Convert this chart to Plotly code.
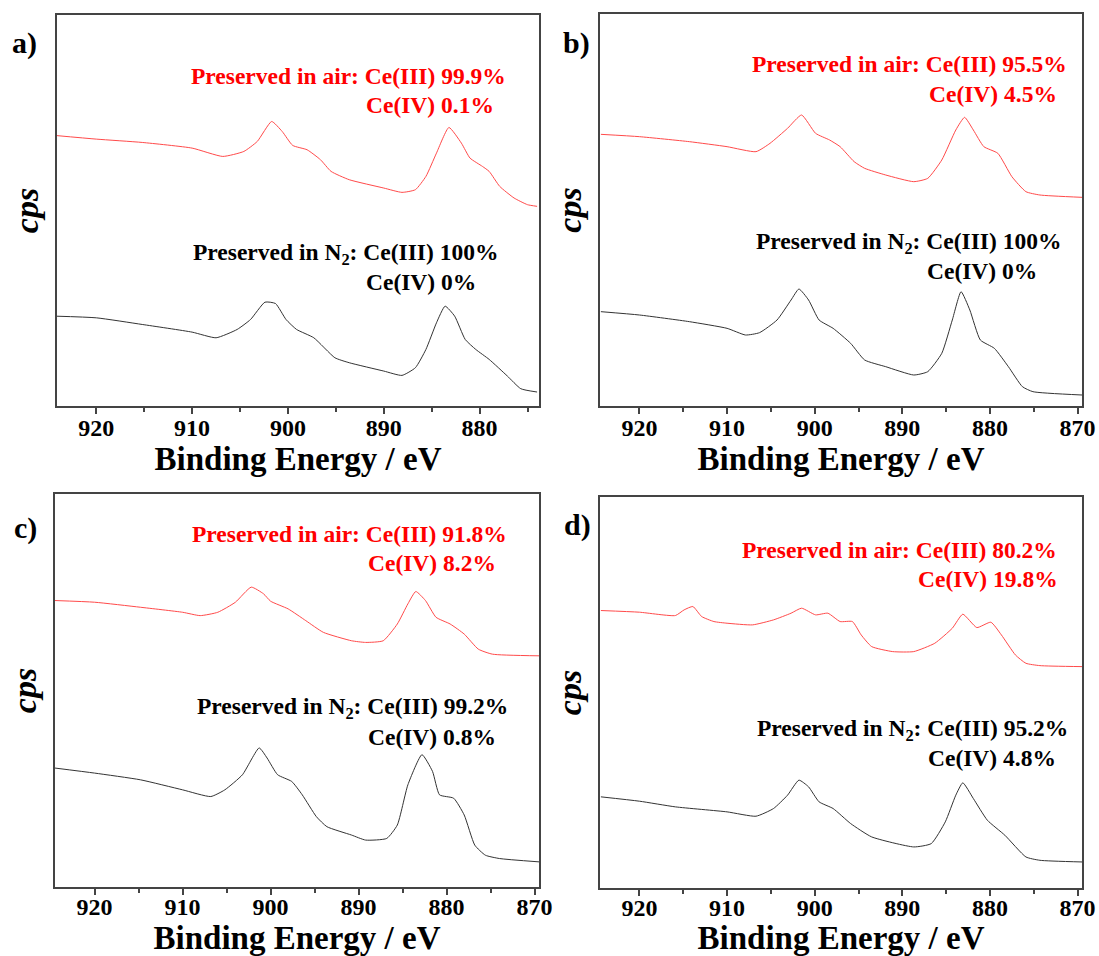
import plotly.graph_objects as go

# ---------------- data (binding energy in eV, intensity in arbitrary cps) ----------------
a_air_E = [924.3, 920, 915.2, 910, 906.8, 904.6, 903.2, 901.7, 900.6, 899.5, 898, 896.6, 895.5, 893.6,
           890, 888.1, 886.7, 885.6, 884.5, 883.2, 881.9, 881, 879.7, 879, 877.9, 876.4, 875, 874]
a_air_I = [813, 802, 792, 775, 750, 765, 795, 855, 825, 783, 770, 740, 705, 680,
           655, 642, 650, 690, 760, 837, 790, 745, 720, 705, 660, 625, 605, 600]
a_n2_E = [924.3, 920, 915.2, 910, 907.5, 905.3, 903.9, 902.4, 901.3, 900.2, 899.1, 897.3, 895.1, 893.6,
          890, 888.1, 886.7, 885.6, 884.5, 883.6, 882.6, 881.5, 880.4, 879, 877.1, 875.7, 874]
a_n2_I = [270, 265, 245, 222, 205, 230, 260, 312, 308, 260, 230, 205, 145, 130,
          105, 92, 115, 170, 250, 300, 270, 200, 170, 140, 90, 52, 42]

b_air_E = [924.4, 920, 914.3, 910, 906.7, 905.1, 903.1, 901.5, 899.9, 898.3, 897.1, 895.5, 894.3, 891.9,
           888.7, 887.1, 885.5, 883.9, 882.9, 881.9, 880.7, 879.1, 877.5, 875.9, 874.3, 869.5]
b_air_I = [815, 808, 793, 778, 763, 788, 833, 873, 818, 798, 778, 733, 713, 693,
           673, 683, 738, 828, 866, 828, 778, 758, 688, 643, 633, 626]
b_n2_E = [924.4, 920, 914.3, 910, 907.9, 906.3, 904.3, 902.7, 901.8, 900.7, 899.5, 897.9, 895.9, 894.3,
          891.9, 888.7, 887.1, 885.5, 884.3, 883.3, 882.3, 881.1, 879.5, 877.9, 876.3, 875.1, 869.5]
b_n2_I = [283, 273, 253, 233, 213, 220, 258, 318, 351, 318, 258, 233, 188, 138,
          118, 93, 103, 158, 258, 343, 288, 198, 173, 118, 58, 43, 33]

c_air_E = [924.5, 920, 914.8, 910, 908, 906, 904, 902.2, 900.8, 900, 898, 896, 894, 890.8,
           889.2, 887.2, 885.6, 884.4, 883.5, 882.4, 881.2, 879.6, 878, 876.4, 874.8, 869.5]
c_air_I = [855, 850, 835, 820, 810, 820, 850, 895, 875, 853, 830, 795, 760, 735,
           730, 735, 785, 845, 882, 855, 805, 785, 755, 710, 695, 690]
c_n2_E = [924.5, 920, 914.8, 910, 906.8, 905.2, 903.2, 901.3, 900.4, 899.2, 897.6, 896.4, 894.8, 893.6,
          890.8, 889.2, 886.8, 885.6, 884.4, 882.8, 881.6, 880.8, 879.2, 878, 876.8, 875.6, 874, 869.5]
c_n2_I = [355, 340, 320, 290, 270, 290, 335, 415, 385, 335, 315, 275, 210, 180,
          155, 140, 145, 185, 305, 395, 345, 275, 265, 215, 125, 95, 85, 75]

d_air_E = [924.4, 920, 915.9, 914.9, 913.9, 912.9, 911.5, 910, 907.1, 904.7, 902.7, 901.5, 899.9, 898.5,
           897.1, 895.7, 894.7, 893.5, 891.1, 888.7, 886.3, 884.3, 883.1, 881.5, 879.9, 878.7, 877.1,
           875.9, 874.3, 869.5]
d_air_I = [831, 826, 816, 833, 843, 813, 798, 793, 788, 803, 823, 838, 818, 823,
           798, 798, 758, 723, 708, 708, 733, 778, 820, 780, 796, 758, 698,
           673, 666, 663]
d_n2_E = [924.4, 920, 915.9, 910, 906.7, 904.7, 903.1, 901.8, 900.7, 899.5, 897.9, 895.9, 893.5, 888.7,
          886.7, 885.1, 883.9, 883.1, 881.9, 880.3, 878.3, 875.9, 874.3, 869.5]
d_n2_I = [273, 260, 243, 228, 215, 238, 278, 323, 303, 258, 238, 193, 153, 123,
          133, 198, 278, 315, 268, 203, 158, 93, 83, 78]

panel_letters = ["a)", "b)", "c)", "d)"]
air_ce3 = ["99.9%", "95.5%", "91.8%", "80.2%"]
air_ce4 = ["0.1%", "4.5%", "8.2%", "19.8%"]
n2_ce3 = ["100%", "100%", "99.2%", "95.2%"]
n2_ce4 = ["0%", "0%", "0.8%", "4.8%"]
x_ticks = [920, 910, 900, 890, 880, 870]

series = [
    (a_air_E, a_air_I, a_n2_E, a_n2_I),
    (b_air_E, b_air_I, b_n2_E, b_n2_I),
    (c_air_E, c_air_I, c_n2_E, c_n2_I),
    (d_air_E, d_air_I, d_n2_E, d_n2_I),
]

# ---------------- layout (pixel geometry) ----------------
W, H = 1099, 956
FONT = "Liberation Serif, Times New Roman, serif"

boxes = [(57, 539, 15, 406), (600, 1082, 14, 406), (55, 539, 494, 887), (600, 1082, 497, 888)]
x_ranges = [[924.1, 873.8], [924.5, 869.5], [924.5, 869.5], [924.5, 869.5]]
y_ranges = [[0, 1175], [0, 1176], [0, 1173], [0, 1171]]
label_standoff = [-7, -7, -9, -9]

label_pos = [(24, 43), (576, 43), (25, 528), (577, 525)]
air1_pos = [(189, 76), (750, 64), (190, 534), (740, 550)]
air2_pos = [(364, 105), (927, 94), (366, 563), (916, 579)]
n21_pos = [(191, 254), (754, 243), (195, 708), (755, 730)]
n22_pos = [(364, 282), (925, 271), (366, 737), (926, 758)]

fig = go.Figure()

def px(x):
    return x / W

def py(y):
    return 1 - y / H

annotations = []
for i, (eA, iA, eN, iN) in enumerate(series):
    sfx = "" if i == 0 else str(i + 1)
    xa, ya = "x" + sfx, "y" + sfx
    fig.add_trace(go.Scatter(x=eA, y=iA, mode="lines", xaxis=xa, yaxis=ya,
                             line=dict(color="#ff4a4a", width=1, shape="spline", smoothing=0.5),
                             showlegend=False, name="air"))
    fig.add_trace(go.Scatter(x=eN, y=iN, mode="lines", xaxis=xa, yaxis=ya,
                             line=dict(color="#333333", width=1, shape="spline", smoothing=0.5),
                             showlegend=False, name="N2"))
    l, r, t, b = boxes[i]
    axis_common = dict(showline=True, linecolor="#444444", linewidth=2, mirror=True,
                       showgrid=False, zeroline=False, automargin=False)
    fig.layout["xaxis" + sfx] = dict(
        domain=[px(l), px(r)], anchor=ya, range=x_ranges[i], autorange=False,
        tickvals=x_ticks, ticks="outside", ticklen=6, tickwidth=2, tickcolor="#444444",
        ticklabelstandoff=label_standoff[i],
        minor=dict(dtick=5, ticks="outside", ticklen=4, tickwidth=2, tickcolor="#444444", showgrid=False),
        tickfont=dict(family=FONT, size=24, color="black", weight="bold"),
        title=dict(text="<b>Binding Energy / eV</b>", font=dict(family=FONT, size=33, color="black"),
                   standoff=0),
        **axis_common)
    fig.layout["yaxis" + sfx] = dict(
        domain=[py(b), py(t)], anchor=xa, range=y_ranges[i], autorange=False,
        showticklabels=False, ticks="",
        title=dict(text="<b><i>cps</i></b>", font=dict(family=FONT, size=34, color="black"), standoff=6),
        **axis_common)

    def ann(text, pos, color, size=23.5, anchor="left"):
        annotations.append(dict(text=text, x=px(pos[0]), y=py(pos[1]), xref="paper", yref="paper",
                                xanchor=anchor, yanchor="middle", showarrow=False,
                                font=dict(family=FONT, size=size, color=color)))

    ann("<b>" + panel_letters[i] + "</b>", label_pos[i], "black", size=30, anchor="center")
    ann("<b>Preserved in air: Ce(III) " + air_ce3[i] + "</b>", air1_pos[i], "#ff0000")
    ann("<b>Ce(IV) " + air_ce4[i] + "</b>", air2_pos[i], "#ff0000")
    ann("<b>Preserved in N<sub>2</sub>: Ce(III) " + n2_ce3[i] + "</b>", n21_pos[i], "black")
    ann("<b>Ce(IV) " + n2_ce4[i] + "</b>", n22_pos[i], "black")

fig.update_layout(width=W, height=H, margin=dict(l=0, r=0, t=0, b=0), template="none",
                  paper_bgcolor="white", plot_bgcolor="white", annotations=annotations,
                  font=dict(family=FONT))

fig.write_html("out.html", config={"displayModeBar": False},
               post_script="document.body.style.margin='0';document.body.style.overflow='hidden';")
